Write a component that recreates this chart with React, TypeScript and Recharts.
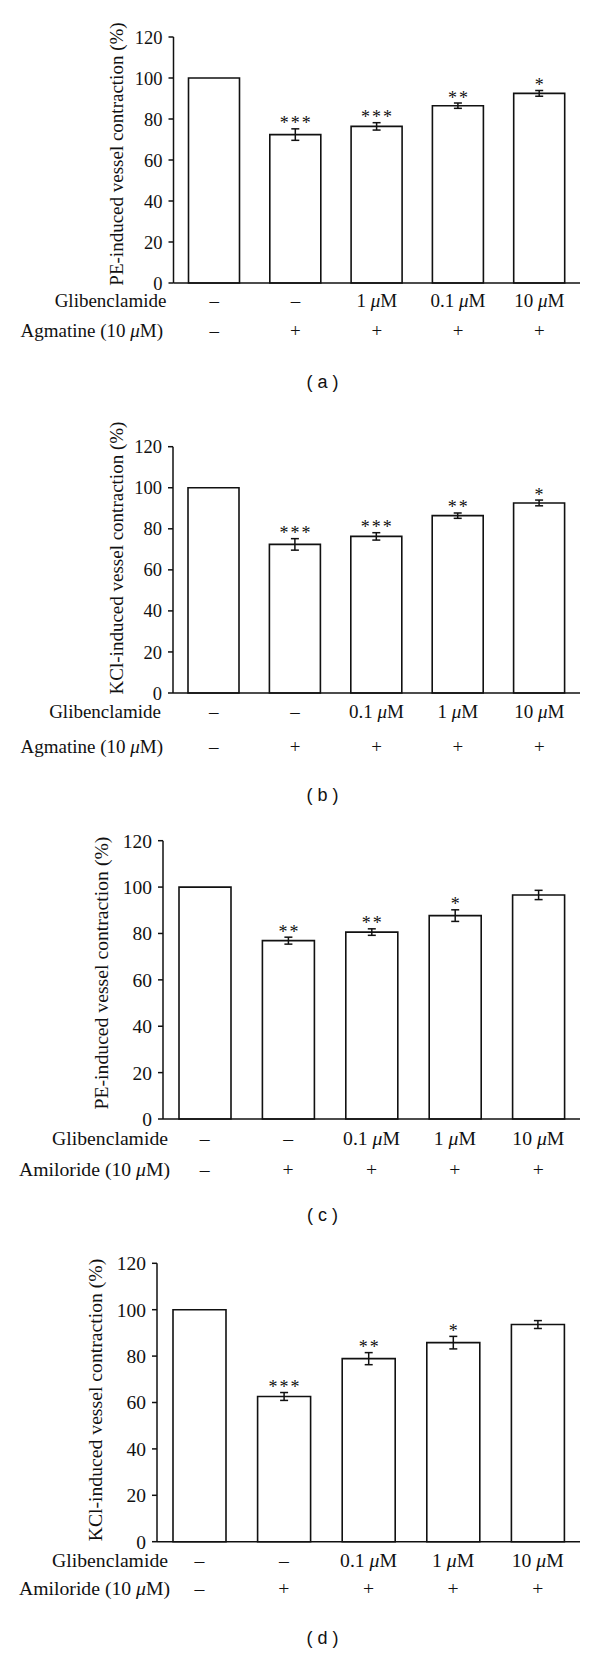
import React from "react";
import { Bar, BarChart, ErrorBar, Label, LabelList, XAxis, YAxis } from "recharts";

// Five treatment groups, same order in every panel
const GROUPS = ["control", "blocker", "glib-low", "glib-mid", "glib-high"];
const GLIB_A = ["–", "–", "1 μM", "0.1 μM", "10 μM"];
const GLIB_BCD = ["–", "–", "0.1 μM", "1 μM", "10 μM"];
const BLOCKER = ["–", "+", "+", "+", "+"];
const Y_TICKS = [0, 20, 40, 60, 80, 100, 120];

// (a) PE + agmatine
const VALUES_A = [100, 72.4, 76.4, 86.5, 92.5];
const ERR_A = [0, 2.8, 1.8, 1.3, 1.4];
const STARS_A = ["", "***", "***", "**", "*"];
// (b) KCl + agmatine
const VALUES_B = [100, 72.4, 76.3, 86.4, 92.6];
const ERR_B = [0, 2.8, 1.8, 1.3, 1.4];
const STARS_B = ["", "***", "***", "**", "*"];
// (c) PE + amiloride
const VALUES_C = [100, 76.9, 80.6, 87.7, 96.6];
const ERR_C = [0, 1.5, 1.4, 2.5, 2.0];
const STARS_C = ["", "**", "**", "*", ""];
// (d) KCl + amiloride
const VALUES_D = [100, 62.6, 78.9, 85.8, 93.6];
const ERR_D = [0, 1.7, 2.6, 2.7, 1.7];
const STARS_D = ["", "***", "**", "*", ""];

const INK = "#111111";
const SERIF = "'Liberation Serif', 'Times New Roman', serif";
const Y_AXIS_W = 60;
const X_AXIS_H = 80;

interface PanelSpec {
  top: number;
  height: number;
  plotTop: number;
  plotBottom: number;
  axisX: number;
  plotRight: number;
  font: number;
  tickFont: number;
  barSize: number;
  row1: number;
  row2: number;
  row1Right: number;
  row2Right: number;
  rowLabel1: string;
  rowLabel2: string;
  yLabel: string;
  yLabelX: number;
  yLabelY: number;
  caption: string;
  captionY: number;
  glib: string[];
  values: number[];
  errors: number[];
  stars: string[];
}

const PANELS: PanelSpec[] = [
  {
    top: 0, height: 414, plotTop: 37, plotBottom: 283, axisX: 173.5, plotRight: 580,
    font: 19, tickFont: 18.5, barSize: 51, row1: 300.5, row2: 331, row1Right: 166.5, row2Right: 163,
    rowLabel1: "Glibenclamide", rowLabel2: "Agmatine (10 μM)",
    yLabel: "PE-induced vessel contraction (%)", yLabelX: 117, yLabelY: 154,
    caption: "( a )", captionY: 381.5,
    glib: GLIB_A, values: VALUES_A, errors: ERR_A, stars: STARS_A,
  },
  {
    top: 414, height: 414, plotTop: 32.7, plotBottom: 279, axisX: 173, plotRight: 580,
    font: 19, tickFont: 18.5, barSize: 51, row1: 298, row2: 333, row1Right: 161, row2Right: 163,
    rowLabel1: "Glibenclamide", rowLabel2: "Agmatine (10 μM)",
    yLabel: "KCl-induced vessel contraction (%)", yLabelX: 117, yLabelY: 144,
    caption: "( b )", captionY: 381,
    glib: GLIB_BCD, values: VALUES_B, errors: ERR_B, stars: STARS_B,
  },
  {
    top: 828, height: 414, plotTop: 12.7, plotBottom: 291, axisX: 163, plotRight: 580,
    font: 19.7, tickFont: 19.5, barSize: 52, row1: 311, row2: 341.5, row1Right: 168, row2Right: 170,
    rowLabel1: "Glibenclamide", rowLabel2: "Amiloride (10 μM)",
    yLabel: "PE-induced vessel contraction (%)", yLabelX: 101.5, yLabelY: 145,
    caption: "( c )", captionY: 387,
    glib: GLIB_BCD, values: VALUES_C, errors: ERR_C, stars: STARS_C,
  },
  {
    top: 1242, height: 413, plotTop: 21.3, plotBottom: 299.7, axisX: 157, plotRight: 580,
    font: 19.7, tickFont: 19.5, barSize: 53, row1: 319, row2: 347, row1Right: 168, row2Right: 170,
    rowLabel1: "Glibenclamide", rowLabel2: "Amiloride (10 μM)",
    yLabel: "KCl-induced vessel contraction (%)", yLabelX: 96, yLabelY: 158,
    caption: "( d )", captionY: 396,
    glib: GLIB_BCD, values: VALUES_D, errors: ERR_D, stars: STARS_D,
  },
];

// italic mu, upright everything else
function withMu(s: string) {
  const parts = s.split("μ");
  if (parts.length === 1) return s;
  return (
    <>
      {parts[0]}
      <tspan fontStyle="italic">μ</tspan>
      {parts[1]}
    </>
  );
}

function Panel({ spec }: { spec: PanelSpec }) {
  const data = GROUPS.map((g, i) => ({
    name: g,
    value: spec.values[i],
    err: spec.errors[i],
    stars: spec.stars[i],
  }));
  const pxPerUnit = (spec.plotBottom - spec.plotTop) / 120;

  const renderTick = (props: any) => {
    const idx = props.payload?.index ?? props.index ?? 0;
    const x = Number(props.x);
    return (
      <g>
        {idx === 0 && (
          <>
            <text x={spec.row1Right} y={spec.row1 + 6} textAnchor="end" fontSize={spec.font} fill={INK} fontFamily={SERIF}>
              {spec.rowLabel1}
            </text>
            <text x={spec.row2Right} y={spec.row2 + 6} textAnchor="end" fontSize={spec.font} fill={INK} fontFamily={SERIF}>
              {withMu(spec.rowLabel2)}
            </text>
          </>
        )}
        <text x={x} y={spec.row1 + 6} textAnchor="middle" fontSize={spec.font} fill={INK} fontFamily={SERIF}>
          {withMu(spec.glib[idx])}
        </text>
        <text x={x} y={spec.row2 + 6} textAnchor="middle" fontSize={spec.font} fill={INK} fontFamily={SERIF}>
          {BLOCKER[idx]}
        </text>
      </g>
    );
  };

  const renderStars = (props: any) => {
    const idx = props.index;
    const s = spec.stars[idx];
    if (!s) return null;
    const errTop = Number(props.y) - spec.errors[idx] * pxPerUnit;
    return (
      <text
        x={Number(props.x) + Number(props.width) / 2 + 1}
        y={errTop + 0.5}
        textAnchor="middle"
        fontSize={18}
        letterSpacing={2}
        fill={INK}
        fontFamily={SERIF}
      >
        {s}
      </text>
    );
  };

  return (
    <div style={{ position: "absolute", left: 0, top: spec.top, width: 600, height: spec.height }}>
      <BarChart
        width={600}
        height={spec.height}
        data={data}
        margin={{
          top: spec.plotTop,
          right: 600 - spec.plotRight,
          bottom: spec.height - spec.plotBottom - X_AXIS_H,
          left: spec.axisX - Y_AXIS_W,
        }}
      >
        <XAxis
          dataKey="name"
          height={X_AXIS_H}
          interval={0}
          tickLine={false}
          axisLine={{ stroke: INK, strokeWidth: 1.5 }}
          tick={renderTick}
        />
        <YAxis
          width={Y_AXIS_W}
          domain={[0, 120]}
          ticks={Y_TICKS}
          interval={0}
          tickSize={5}
          tickMargin={6}
          axisLine={{ stroke: INK, strokeWidth: 1.5 }}
          tickLine={{ stroke: INK, strokeWidth: 1.5 }}
          tick={{ fontSize: spec.tickFont, fill: INK, fontFamily: SERIF }}
        >
          <Label
            content={() => (
              <text
                x={spec.yLabelX + 6}
                y={spec.yLabelY}
                transform={`rotate(-90 ${spec.yLabelX + 6} ${spec.yLabelY})`}
                textAnchor="middle"
                fontSize={spec.font}
                fill={INK}
                fontFamily={SERIF}
              >
                {spec.yLabel}
              </text>
            )}
          />
        </YAxis>
        <Bar dataKey="value" barSize={spec.barSize} fill="#ffffff" stroke={INK} strokeWidth={1.6} isAnimationActive={false}>
          <ErrorBar dataKey="err" width={4} stroke={INK} strokeWidth={1.5} direction="y" />
          <LabelList dataKey="stars" content={renderStars} />
        </Bar>
      </BarChart>
      <div
        style={{
          position: "absolute",
          left: 0,
          width: 645,
          top: spec.captionY - 11,
          textAlign: "center",
          fontFamily: "'Liberation Sans', Arial, sans-serif",
          fontSize: 18,
          lineHeight: "22px",
          color: INK,
          whiteSpace: "pre",
        }}
      >
        {spec.caption}
      </div>
    </div>
  );
}

export default function App() {
  return (
    <div style={{ position: "relative", width: 600, height: 1655, background: "#ffffff" }}>
      <style>{`body { margin: 0; background: #ffffff; }`}</style>
      {PANELS.map((p) => (
        <Panel key={p.caption} spec={p} />
      ))}
    </div>
  );
}
